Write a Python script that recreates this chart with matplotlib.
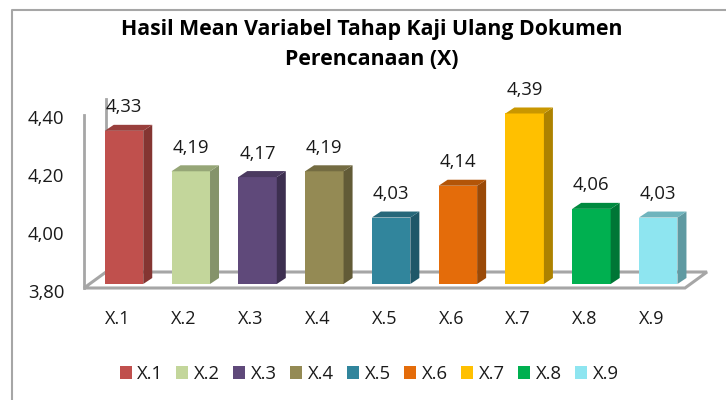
import matplotlib
matplotlib.use('Agg')
import matplotlib.pyplot as plt
from matplotlib.patches import Polygon, Rectangle
from matplotlib.lines import Line2D
from matplotlib.transforms import Affine2D

plt.rcParams['font.family'] = ['Open Sans', 'DejaVu Sans']

categories = ['X.1', 'X.2', 'X.3', 'X.4', 'X.5', 'X.6', 'X.7', 'X.8', 'X.9']
values = [4.33, 4.19, 4.17, 4.19, 4.03, 4.14, 4.39, 4.06, 4.03]
front_colors = ['#C0504D', '#C3D69B', '#5F497A', '#948A54', '#31859C',
                '#E46C0A', '#FFC000', '#00B050', '#8EE5F0']
side_colors = ['#843532', '#85936A', '#3D2F50', '#625B37', '#1F5768',
               '#9A4907', '#AD8200', '#007636', '#5F9AA2']
top_colors = ['#993F3C', '#96A677', '#4B3A60', '#746C42', '#27687A',
              '#B35508', '#C99700', '#008A3F', '#6FB4BD']
y_ticks = [3.8, 4.0, 4.2, 4.4]
y_labels = ['3,80', '4,00', '4,20', '4,40']
title = 'Hasil Mean Variabel Tahap Kaji Ulang Dokumen\nPerencanaan (X)'

W, H = 726, 400
fig = plt.figure(figsize=(W / 100, H / 100), dpi=100, facecolor='white')

# front plane of the 3d box, in pixels of the picture
left, right, base, top = 84, 685, 288, 114.6
ax = fig.add_axes([left / W, 1 - base / H, (right - left) / W, (base - top) / H])
ax.set_xlim(-0.5, 8.5)
ax.set_ylim(3.8, 4.4)
ax.patch.set_visible(False)
for s in ax.spines.values():
    s.set_visible(False)

px_x = (right - left) / 9
px_y = (base - top) / 0.6
GRAY = '#A6A6A6'

# floor and back wall
floor_dx, floor_dy = 22 / px_x, 16 / px_y
x0, x1 = -0.5, 8.5
ax.add_patch(Polygon([(x0, 3.8), (x1, 3.8), (x1 + floor_dx, 3.8 + floor_dy), (x0 + floor_dx, 3.8 + floor_dy)],
                     closed=True, fc='white', ec=GRAY, lw=2.2, clip_on=False, zorder=1))
ax.add_line(Line2D([x0, x0], [3.8, 4.4], color=GRAY, lw=2, clip_on=False, zorder=1))
ax.add_line(Line2D([x0 + floor_dx] * 2, [3.8 + floor_dy, 4.4 + floor_dy], color=GRAY, lw=2, clip_on=False, zorder=1))

# bars, shifted a bit into the box, with side and top faces
bar_w = 38.5 / px_x
shift_x, shift_y = 6.6 / px_x, 4 / px_y
depth_x, depth_y = 9 / px_x, 6 / px_y
for i, v in enumerate(values):
    xa = i + shift_x - bar_w / 2
    xb = xa + bar_w
    y0 = 3.8 + shift_y
    y1 = v + shift_y
    ax.add_patch(Rectangle((xa, y0), bar_w, v - 3.8, fc=front_colors[i], ec='none', clip_on=False, zorder=3))
    ax.add_patch(Polygon([(xb, y0), (xb + depth_x, y0 + depth_y), (xb + depth_x, y1 + depth_y), (xb, y1)],
                         closed=True, fc=side_colors[i], ec='none', clip_on=False, zorder=3))
    ax.add_patch(Polygon([(xa, y1), (xb, y1), (xb + depth_x, y1 + depth_y), (xa + depth_x, y1 + depth_y)],
                         closed=True, fc=top_colors[i], ec='none', clip_on=False, zorder=3))
    ax.annotate(f'{v:.2f}'.replace('.', ','), (i + shift_x, y1 + depth_y), xytext=(0, 12.5),
                textcoords='offset points', ha='center', va='center', fontsize=13.3,
                color='#1A1A1A', annotation_clip=False, zorder=4)

ax.set_xticks(range(len(categories)), categories)
ax.set_yticks(y_ticks, y_labels)
ax.tick_params(axis='x', length=0, pad=15.5, labelsize=13, labelcolor='#1A1A1A')
ax.tick_params(axis='y', length=0, pad=14, labelsize=13.3, labelcolor='#1A1A1A')
# value labels sit slightly below their gridline height
for lab in ax.get_yticklabels():
    lab.set_transform(lab.get_transform() + Affine2D().translate(0, -2.5))

fig.text(372 / W, 1 - 44.5 / H, title, ha='center', va='center', fontsize=15.3,
         fontweight='bold', color='#000000', linespacing=1.55)

# legend
handles = [Rectangle((0, 0), 1, 1, fc=c, ec='none') for c in front_colors]
fig.legend(handles, categories, loc='center', bbox_to_anchor=(369 / W, 1 - 374 / H), ncol=9,
           frameon=False, fontsize=13.3, handlelength=0.65, handleheight=0.65,
           handletextpad=0.3, columnspacing=0.72, labelcolor='#1A1A1A')

# chart border, left and top only are inside the crop
fig.add_artist(Line2D([12 / W, 12 / W, 1], [0, 1 - 10 / H, 1 - 10 / H], color=GRAY, lw=1.5))

fig.savefig('out.png', dpi=100)
